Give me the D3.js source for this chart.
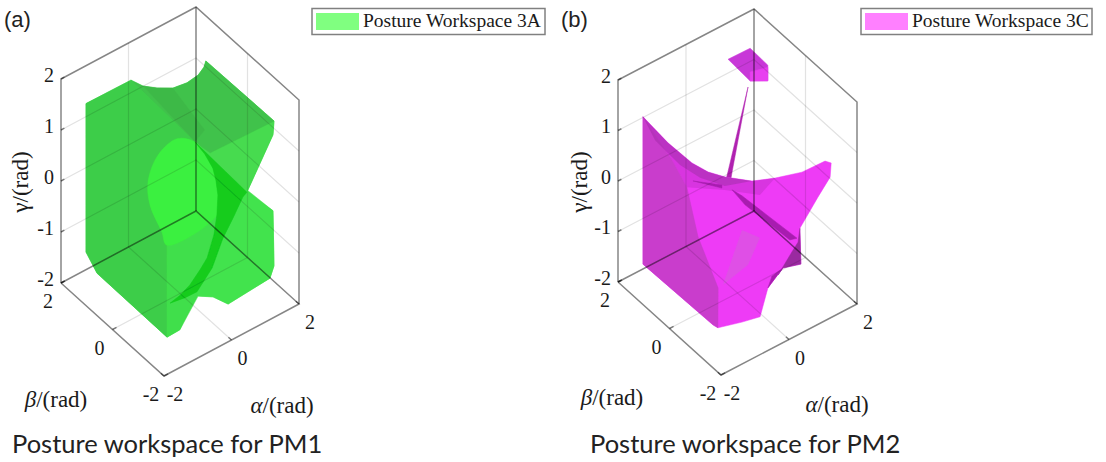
<!DOCTYPE html>
<html>
<head>
<meta charset="utf-8">
<script src="https://cdn.jsdelivr.net/npm/d3@7"></script>
<style>
    html, body { margin: 0; padding: 0; background: #fff; }
    svg { display: block; }
    .serif { font-family: "Liberation Serif", serif; fill: #1a1a1a; }
    .grid, .frame { mix-blend-mode: multiply; fill: none; }
</style>
</head>
<body>
<div id="chart"></div>
<script>
var abTicks = [-2, 0, 2];
var gammaTicks = [-2, -1, 0, 1, 2];

// every point is [alpha, beta, gamma] in rad
var pm1Outline = [[-2, 1.03, 1.96], [-0.72, 0.96, 2], [-0.62, 0.63, 2], [-0.40, 0.37, 2], [-0.10, 0.14, 2], [0.27, 0.08, 2], [0.64, 0.13, 2],
    [0.91, 0.26, 2], [1.07, 0.40, 2], [1.26, -2, 1.85], [1.23, -2, 1.59], [0.46, -2, 0.74], [1.23, -2, 0.10], [1.26, -2, -0.99],
    [1.14, -2, -1.19], [-0.10, -2, -1.26], [-0.55, -2, -0.96], [-0.99, -2, -0.79], [-1.53, -2, -1.26], [-1.91, -2, -1.27],
    [-2, 0.60, -1.17], [-2, 1.03, -0.95]];
var pm1TopSlope = [[-0.72, 0.96, 2], [-0.62, 0.63, 2], [-0.40, 0.37, 2], [-0.10, 0.14, 2], [0.27, 0.08, 2], [0.64, 0.13, 2],
    [0.91, 0.26, 2], [1.07, 0.40, 2], [1.26, -2, 1.85], [0.13, -1, 1.17], [-0.32, -1, 1.54]];
var pm1Ridge = [[-0.62, 0.63, 2], [-0.10, 0.14, 2], [-0.02, -1, 1.67], [-0.32, -1, 1.54]];
var pm1UpperRight = [[-0.32, -1, 1.54], [0.13, -1, 1.17], [1.26, -2, 1.85], [1.23, -2, 1.59], [0.46, -2, 0.74]];
var pm1Front = [[-2, 1.03, 1.96], [-0.72, 0.96, 2], [-0.32, -1, 1.54], [-0.85, -1, 1.79], [-1.41, -1, 1.67], [-1.71, -1, 1.25],
    [-1.65, -1, 0.77], [-1.30, -1, 0.12], [-1.15, -1, -0.19], [-1.91, -2, -1.27], [-2, 0.60, -1.17], [-2, 1.03, -0.95]];
var pm1Lens = [[-0.85, -1, 1.79], [-0.32, -1, 1.54], [-0.03, -1, 1.20], [0.21, -1, 0.84], [0.36, -1, 0.26], [0.33, -1, -0.12], [-1.15, -1, -0.19],
    [-1.30, -1, 0.12], [-1.65, -1, 0.77], [-1.71, -1, 1.25], [-1.41, -1, 1.67]];
var pm1LowerCentre = [[-1.15, -1, -0.19], [0.33, -1, -0.12], [0.04, -1, -0.86], [-0.47, -1, -1.21], [-1.06, -1, -1.36],
    [-0.26, -1, -1.42], [-1.53, -2, -1.26], [-1.91, -2, -1.27]];
var pm1LowerRight = [[0.46, -2, 0.78], [1.23, -2, 0.10], [1.26, -2, -0.99], [1.14, -2, -1.19], [-0.10, -2, -1.26], [-0.55, -2, -0.96],
    [-0.99, -2, -0.79], [-0.26, -1, -1.42], [0.51, -1, -0.64], [1.10, -1, -0.04]];
var pm1Fold = [[-0.32, -1, 1.54], [1.22, -1, 0.01], [1.10, -1, -0.04], [0.81, -1, -0.35], [0.51, -1, -0.64], [0.19, -1, -1.11], [-0.26, -1, -1.42],
    [-0.61, -1, -1.41], [-1.06, -1, -1.36], [-0.76, -1, -1.31], [-0.47, -1, -1.21], [-0.17, -1, -1.02], [0.04, -1, -0.86], [0.24, -1, -0.48],
    [0.33, -1, -0.12], [0.36, -1, 0.26], [0.30, -1, 0.57], [0.21, -1, 0.84], [-0.03, -1, 1.20]];

var pm2Outline = [[-2, 1.03, 1.72], [-2, 0.06, 1.65], [-2, -0.87, 1.68], [-2, -1.50, 1.79], [-1.88, -2, 1.88], [-1.09, -2, 1.52],
    [-0.41, -2, 1.34], [0.38, -2, 1.18], [1.06, -2, 1.16], [1.24, -2, 1.06], [1.21, -2, 0.79], [0.85, -2, 0.52], [0.32, -2, 0.09],
    [0.35, -2, -0.63], [-0.18, -2, -0.52], [-0.62, -2, -0.76], [-0.85, -2, -1.25], [-1.38, -2, -1.17], [-2, -1.88, -1.12],
    [-2, -1.69, -1.15], [-2, 1.03, -1.20]];
var pm2Cap = [[0.48, 1, 2], [1.13, 1, 1.99], [1.65, 1, 1.47], [1.65, 1, 1.16], [1.13, 1, 1.34]];
var pm2CapLower = [[1.13, 1, 1.52], [1.65, 1, 1.43], [1.65, 1, 1.16], [1.13, 1, 1.34]];
var pm2Spike = [[0.31, 0, 1.97], [-0.16, 0, 0.45], [-0.22, 0, 0.24], [-0.37, 0, 0.29], [-0.28, 0, 0.50]];
var pm2SaddleShade = [[-2, 1.03, 1.72], [-2, 0.06, 1.65], [-2, -0.87, 1.68], [-2, -1.50, 1.79], [-1.88, -2, 1.88], [-1.09, -2, 1.52],
    [-0.41, -2, 1.34], [0.66, 0, -0.29], [-0.37, 0, 0.17], [-1.49, 0, 0.62], [-1.93, 0, 1.31]];
var pm2TopBand = [[-2, 1.03, 1.72], [-2, 0.06, 1.65], [-2, -0.87, 1.68], [-2, -1.50, 1.79], [-1.88, -2, 1.88], [-1.09, -2, 1.52],
    [-0.37, 0, 0.25], [-1.10, 0, 0.67], [-1.69, 0, 1.13], [-2, 0.56, 1.47]];
var pm2Left = [[-2, 1.03, 1.72], [-1.93, 0, 1.31], [-1.49, 0, 0.62], [-1.16, 0, -0.48], [-0.57, 0, -1.70], [-2, -1.88, -1.12],
    [-2, -1.69, -1.15], [-2, 1.03, -1.20]];
var pm2Streak = [[0.13, 0, -0.80], [0.66, 0, -1.14], [0.31, 0, -1.55], [-0.43, 0, -1.69]];
var pm2Crease = [[-0.16, 0, 0.10], [0.13, 0, -0.12], [1.75, 0, -1.53], [1.54, 0, -1.49], [0.22, 0, -0.33]];
var pm2Nick = [[-1.31, 0, 0.68], [-0.46, 0, 0.30], [-0.46, 0, 0.24]];
var pm2Flap = [[0.32, -2, 0.09], [0.35, -2, -0.63], [-0.18, -2, -0.52], [-0.32, -2, -0.61], [1.60, 0, -1.75], [1.78, 0, -1.62]];
var pm2FlapEdge = [[-0.18, -2, -0.52], [-0.62, -2, -0.76], [-0.50, -2, -0.57]];

var w = 1106, h = 462;
var svg = d3.select('#chart').append('svg').attr('width', w).attr('height', h);
svg.append('defs').append('filter').attr('id', 'soft')
    .attr('x', '-5%').attr('y', '-5%').attr('width', '110%').attr('height', '110%')
    .append('feGaussianBlur').attr('stdDeviation', 0.6);

var lineGen = d3.line();
var smoothGen = d3.line().curve(d3.curveCatmullRomClosed);

function makeProjection(ox, oy, ax, ay, bx, by, gy) {
    var ds = [-2, 2];
    var aX = d3.scaleLinear().domain(ds).range([0, ax]);
    var aY = d3.scaleLinear().domain(ds).range([0, ay]);
    var bX = d3.scaleLinear().domain(ds).range([0, bx]);
    var bY = d3.scaleLinear().domain(ds).range([0, by]);
    var gY = d3.scaleLinear().domain(ds).range([0, gy]);
    return function(p) {
        return [ox + aX(p[0]) + bX(p[1]), oy + aY(p[0]) + bY(p[1]) + gY(p[2])];
    };
}

function drawPanel(spec) {
    var proj = spec.proj;
    var marks = svg.append('g').attr('filter', 'url(#soft)');

    // solid first, the box lines go over it and show through
    marks.append('g').selectAll('path')
        .data(spec.faces)
        .enter().append('path')
        .attr('d', function(f) {
            return f.smooth ? smoothGen(f.pts.map(proj)) : lineGen(f.pts.map(proj)) + 'Z';
        })
        .style('fill', function(f) { return f.clr; })
        .style('fill-opacity', function(f) { return f.op || 1; })
        .style('stroke', function(f) { return f.op ? 'none' : f.clr; })
        .style('stroke-width', 0.5);

    var grid = [];
    [-1, 0, 1].forEach(function(g) {
        grid.push([[-2, 2, g], [2, 2, g], [2, -2, g]]);
    });
    grid.push([[0, 2, -2], [0, 2, 2]]);
    grid.push([[2, 0, -2], [2, 0, 2]]);
    grid.push([[0, -2, -2], [0, 2, -2]]);
    grid.push([[-2, 0, -2], [2, 0, -2]]);

    marks.append('g').selectAll('path.grid')
        .data(grid)
        .enter().append('path')
        .attr('class', 'grid')
        .attr('d', function(d) { return lineGen(d.map(proj)); })
        .style('stroke', '#e2e2e2')
        .style('stroke-width', 1.2);

    var frame = [
        [[-2, 2, -2], [-2, 2, 2], [2, 2, 2], [2, -2, 2], [2, -2, -2]],
        [[2, 2, -2], [2, 2, 2]],
        [[-2, 2, -2], [2, 2, -2], [2, -2, -2], [-2, -2, -2], [-2, 2, -2]]
    ];
    abTicks.forEach(function(t) {
        frame.push([[t, -2, -2], [t, -1.88, -2]]);
        frame.push([[-2, t, -2], [-1.88, t, -2]]);
    });
    gammaTicks.forEach(function(t) {
        frame.push([[-2, 2, t], [-1.9, 2, t]]);
    });

    marks.append('g').selectAll('path.frame')
        .data(frame)
        .enter().append('path')
        .attr('class', 'frame')
        .attr('d', function(d) { return lineGen(d.map(proj)); })
        .style('stroke', '#868686')
        .style('stroke-width', 1.5);

    var labels = svg.append('g').attr('class', 'serif').attr('font-size', 20);

    labels.selectAll('text.gtick').data(gammaTicks).enter().append('text')
        .attr('class', 'gtick')
        .attr('x', function(t) { return proj([-2, 2, t])[0] - 7; })
        .attr('y', function(t) { return proj([-2, 2, t])[1] + 2.8; })
        .attr('text-anchor', 'end')
        .text(function(t) { return t; });

    labels.selectAll('text.btick').data(abTicks).enter().append('text')
        .attr('class', 'btick')
        .attr('x', function(t) { return proj([-2, t, -2])[0] - 13; })
        .attr('y', function(t) { return proj([-2, t, -2])[1] + 25; })
        .attr('text-anchor', 'middle')
        .text(function(t) { return t; });

    labels.selectAll('text.atick').data(abTicks).enter().append('text')
        .attr('class', 'atick')
        .attr('x', function(t) { return proj([t, -2, -2])[0] + 11; })
        .attr('y', function(t) { return proj([t, -2, -2])[1] + 25; })
        .attr('text-anchor', 'middle')
        .text(function(t) { return t; });

    var axisLabels = labels.append('g').attr('font-size', 23);

    axisLabels.append('text').attr('text-anchor', 'middle')
        .attr('transform', 'translate(' + spec.gx + ',182) rotate(-90)')
        .text('\u03b3/(rad)');

    var bl = axisLabels.append('text').attr('text-anchor', 'middle').attr('x', spec.bx).attr('y', spec.by);
    bl.append('tspan').attr('font-style', 'italic').text('\u03b2');
    bl.append('tspan').text('/(rad)');

    var al = axisLabels.append('text').attr('text-anchor', 'middle').attr('x', spec.ax).attr('y', spec.ay);
    al.append('tspan').attr('font-style', 'italic').text('\u03b1');
    al.append('tspan').text('/(rad)');

    // legend
    var lg = svg.append('g');
    lg.append('rect').attr('x', spec.lx).attr('y', 8.5).attr('width', spec.lw).attr('height', 26)
        .style('fill', '#fff').style('stroke', '#808080').style('stroke-width', 1.5);
    lg.append('rect').attr('x', spec.lx + 4).attr('y', 13).attr('width', 43).attr('height', 17)
        .style('fill', spec.swatch);
    lg.append('text').attr('class', 'serif').attr('font-size', 19.5)
        .attr('x', spec.lx + 51).attr('y', 27).text(spec.legend);

    svg.append('text').attr('x', spec.tagX).attr('y', 27)
        .style('font-family', '"Liberation Sans", sans-serif').attr('font-size', 22).style('fill', '#222')
        .text(spec.tag);

    svg.append('text').attr('x', spec.titleX).attr('y', 453)
        .style('font-family', 'Lato, sans-serif').attr('font-size', 25.5).style('fill', '#222')
        .text(spec.title);
}

drawPanel({
    proj: makeProjection(164, 376, 135, -72, -103, -93, -204),
    faces: [
        { pts: pm1Outline, clr: '#41df4b' },
        { pts: pm1UpperRight, clr: '#46db4f' },
        { pts: pm1TopSlope, clr: '#41c24b' },
        { pts: pm1Front, clr: '#3ccd48' },
        { pts: pm1LowerCentre, clr: '#41df4b' },
        { pts: pm1LowerRight, clr: '#43e34d' },
        { pts: pm1Lens, clr: '#3bf03f', smooth: true },
        { pts: pm1Fold, clr: '#12cc1c' },
        { pts: pm1Ridge, clr: '#2f8f3a', op: 0.16 }
    ],
    gx: 28, bx: 56, by: 407, ax: 282, ay: 413,
    lx: 312, lw: 233, swatch: '#80ff80', legend: 'Posture Workspace 3A',
    tag: '(a)', tagX: 4, title: 'Posture workspace for PM1', titleX: 12
});

drawPanel({
    proj: makeProjection(721, 375, 136, -71, -103, -93, -202),
    faces: [
        { pts: pm2Cap, clr: '#c838d8' },
        { pts: pm2CapLower, clr: '#e83ff0' },
        { pts: pm2Spike, clr: '#b020b0' },
        { pts: pm2Outline, clr: '#ee3af6' },
        { pts: pm2SaddleShade, clr: '#a42cac', op: 0.3 },
        { pts: pm2Left, clr: '#c93ccc' },
        { pts: pm2TopBand, clr: '#a42cac', op: 0.55 },
        { pts: pm2Streak, clr: '#d95ae0', op: 0.7 },
        { pts: pm2Crease, clr: '#a81fb0' },
        { pts: pm2Nick, clr: '#a81fb0' },
        { pts: pm2Flap, clr: '#9a2aa0' },
        { pts: pm2FlapEdge, clr: '#a81fb0' }
    ],
    gx: 587, bx: 612, by: 405, ax: 837, ay: 412,
    lx: 861, lw: 231, swatch: '#ff80ff', legend: 'Posture Workspace 3C',
    tag: '(b)', tagX: 561, title: 'Posture workspace for PM2', titleX: 590
});
</script>
</body>
</html>
